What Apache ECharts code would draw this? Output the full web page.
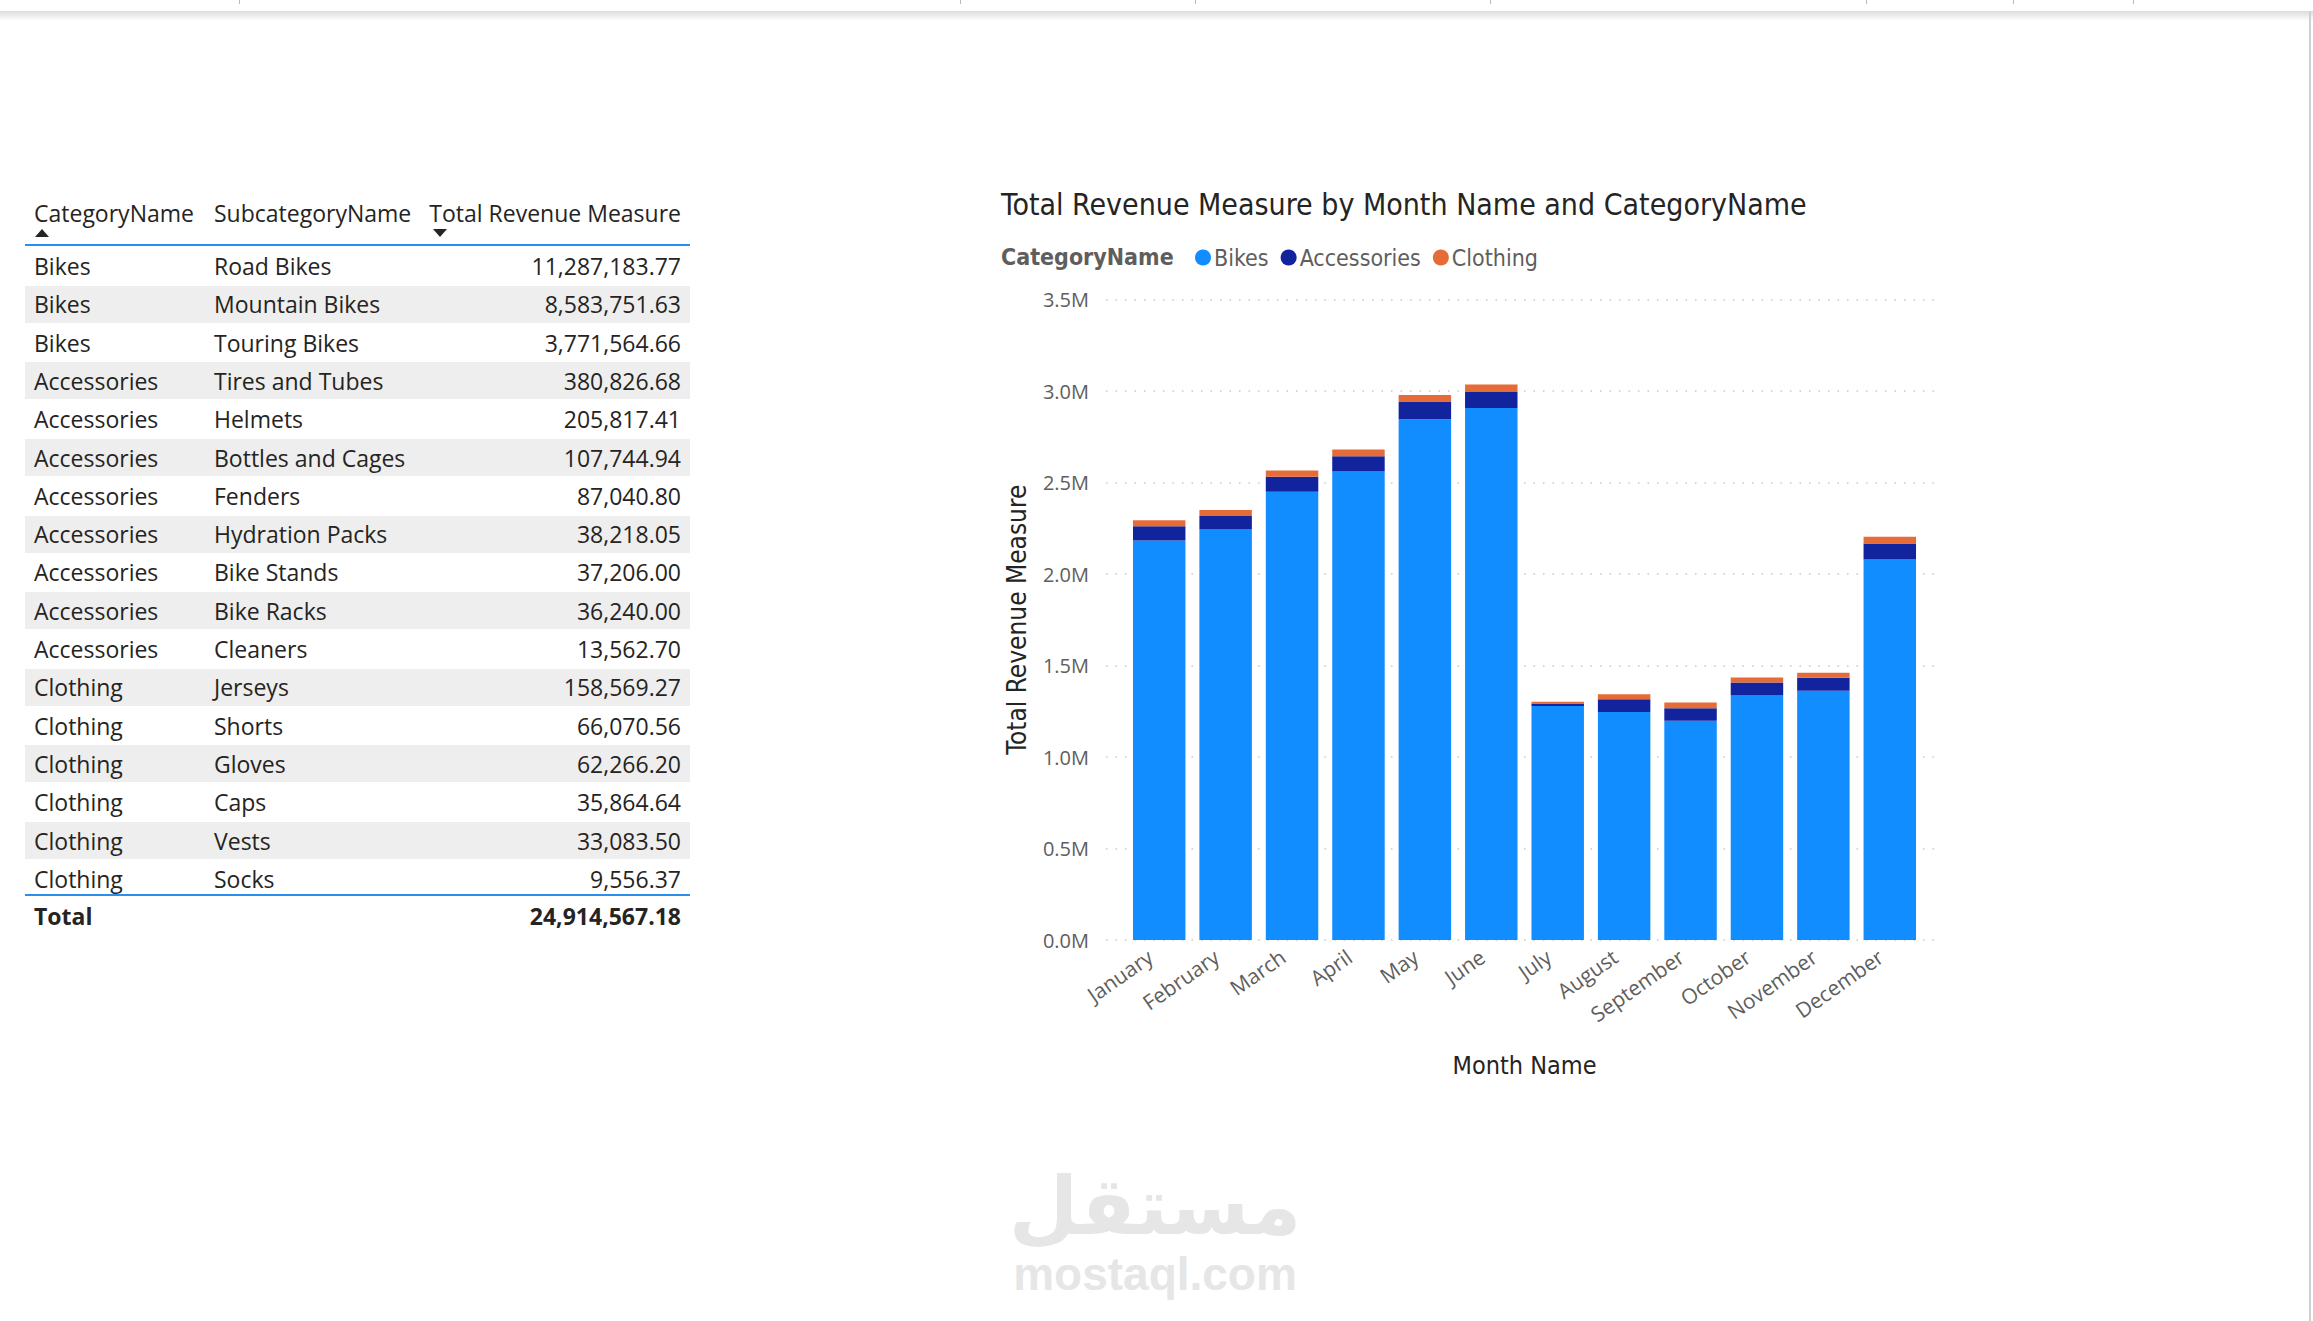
<!DOCTYPE html>
<html>
<head>
<meta charset="utf-8">
<script src="https://cdn.jsdelivr.net/npm/echarts@6/dist/echarts.min.js"></script>
<style>
  html, body { margin:0; padding:0; background:#fff; }
  #wrap { position:relative; width:2313px; height:1321px; overflow:hidden; background:#fff; }
  #chart { position:absolute; left:0; top:0; width:2313px; height:1321px; }
  #table { position:absolute; left:0; top:0; width:720px; height:1000px; font-family:"Open Sans","Noto Sans",sans-serif; color:#252423; }
  .cell { position:absolute; white-space:nowrap; font-size:23px; line-height:38px; height:38px; }
  .band { position:absolute; left:25px; width:665px; background:#EEEEEE; }
  .hline { position:absolute; left:25px; width:665px; height:2px; background:#2A90F0; }
  .tick { position:absolute; top:0; width:1px; height:4px; background:#b8b8b8; }
</style>
</head>
<body>
<div id="wrap">
  <div style="position:absolute;left:0;top:11px;width:2313px;height:10px;background:linear-gradient(#dcdcdc,#ffffff);"></div>
  <div style="position:absolute;left:2309px;top:11px;width:2px;height:1310px;background:#d0d0d0;"></div>
  <div id="ticks"></div>
  <div id="table"></div>
  <div id="chart"></div>
</div>
<script>
// ---------- Table data ----------
const tableCategoryNames = ["Bikes","Bikes","Bikes","Accessories","Accessories","Accessories","Accessories","Accessories","Accessories","Accessories","Accessories","Clothing","Clothing","Clothing","Clothing","Clothing","Clothing"];
const tableSubcategoryNames = ["Road Bikes","Mountain Bikes","Touring Bikes","Tires and Tubes","Helmets","Bottles and Cages","Fenders","Hydration Packs","Bike Stands","Bike Racks","Cleaners","Jerseys","Shorts","Gloves","Caps","Vests","Socks"];
const tableRevenue = [11287183.77,8583751.63,3771564.66,380826.68,205817.41,107744.94,87040.80,38218.05,37206.00,36240.00,13562.70,158569.27,66070.56,62266.20,35864.64,33083.50,9556.37];
const tableTotal = 24914567.18;
const tableHeaders = ["CategoryName","SubcategoryName","Total Revenue Measure"];

// ---------- Chart data ----------
const months = ["January","February","March","April","May","June","July","August","September","October","November","December"];
const bikesRevenue =       [2183000,2243000,2449000,2560000,2845000,2907000,1279000,1246000,1198000,1336000,1362000,2079000];
const accessoriesRevenue = [  78000,  74000,  83000,  83000,  97000,  88000,  14000,  69000,  69000,  71000,  71000,  88000];
const clothingRevenue =    [  33000,  33000,  33000,  38000,  36000,  40000,   9000,  28000,  31000,  28000,  28000,  36000];
const yTicks = [0,500000,1000000,1500000,2000000,2500000,3000000,3500000];

// ---------- decorative top ticks ----------
(function(){
  const xs=[239,960,1195,1490,1866,2013,2133];
  const t=document.getElementById('ticks');
  xs.forEach(x=>{const d=document.createElement('div');d.className='tick';d.style.left=x+'px';t.appendChild(d);});
})();

// ---------- table ----------
(function(){
  const T=document.getElementById('table');
  const fmt=v=>v.toLocaleString('en-US',{minimumFractionDigits:2,maximumFractionDigits:2});
  function cell(text, x, cy, opts){
    const d=document.createElement('div'); d.className='cell'; d.textContent=text;
    d.style.top=(cy-19)+'px';
    if(opts&&opts.right){ d.style.right=(720-x)+'px'; d.style.textAlign='right'; } else d.style.left=x+'px';
    if(opts&&opts.bold) d.style.fontWeight='700';
    T.appendChild(d);
  }
  cell(tableHeaders[0],34,213); cell(tableHeaders[1],214,213); cell(tableHeaders[2],681,213,{right:true});
  const up=document.createElement('div');
  up.style.cssText='position:absolute;left:35px;top:229px;width:0;height:0;border-left:7px solid transparent;border-right:7px solid transparent;border-bottom:8px solid #252423;';
  T.appendChild(up);
  const dn=document.createElement('div');
  dn.style.cssText='position:absolute;left:433px;top:229px;width:0;height:0;border-left:7px solid transparent;border-right:7px solid transparent;border-top:8px solid #252423;';
  T.appendChild(dn);
  const l1=document.createElement('div'); l1.className='hline'; l1.style.top='244px'; T.appendChild(l1);
  const rh=38.3, c0=266;
  for(let i=0;i<tableCategoryNames.length;i++){
    const cy=c0+rh*i;
    if(i%2===1){ const b=document.createElement('div'); b.className='band'; b.style.top=(cy-18.5)+'px'; b.style.height='37px'; T.appendChild(b); }
    cell(tableCategoryNames[i],34,cy);
    cell(tableSubcategoryNames[i],214,cy);
    cell(fmt(tableRevenue[i]),681,cy,{right:true});
  }
  const l2=document.createElement('div'); l2.className='hline'; l2.style.top='894px'; T.appendChild(l2);
  cell('Total',34,916,{bold:true});
  cell(fmt(tableTotal),681,916,{bold:true,right:true});
})();

// ---------- chart ----------
const chart = echarts.init(document.getElementById('chart'), null, {renderer:'svg', width:2313, height:1321});
const gridTop=299.5, gridBottom=381;
const labelFont = '"Open Sans","Noto Sans",sans-serif';
const dinFont = '"DejaVu Sans Condensed","DejaVu Sans",sans-serif';
chart.setOption({
  animation:false,
  graphic:[
    {type:'text', x:1001, y:204, style:{text:'Total Revenue Measure by Month Name and CategoryName', font:'30px '+dinFont, fill:'#252423', align:'left', verticalAlign:'middle'}},
    {type:'text', x:1001, y:257, style:{text:'CategoryName', font:'bold 23px '+dinFont, fill:'#605E5C', align:'left', verticalAlign:'middle'}},
    {type:'text', x:1155, y:1206, style:{text:'مستقل', font:'bold 80px "DejaVu Sans",sans-serif', fill:'#E6E6E6', align:'center', verticalAlign:'middle'}},
    {type:'text', x:1155, y:1274, style:{text:'mostaql.com', font:'bold 46px "Liberation Sans",Arial,sans-serif', fill:'#E6E6E6', align:'center', verticalAlign:'middle'}}
  ],
  legend:{
    left:1190, top:241, icon:'circle', itemWidth:16, itemHeight:16, itemGap:12,
    textStyle:{fontFamily:dinFont, fontSize:23, color:'#605E5C', padding:[0,0,0,-2]},
    data:['Bikes','Accessories','Clothing']
  },
  grid:[
    {left:1126, right:390, top:gridTop, bottom:gridBottom, containLabel:false},
    {left:1106, right:376, top:gridTop, bottom:gridBottom, containLabel:false}
  ],
  xAxis:[
    {type:'category', gridIndex:0, data:months,
     axisLine:{show:false}, axisTick:{show:false},
     axisLabel:{rotate:35, margin:8, fontFamily:labelFont, fontSize:21, color:'#605E5C', interval:0, padding:[0,11,0,0]},
     name:'Month Name', nameLocation:'middle', nameGap:113,
     nameTextStyle:{fontFamily:dinFont, fontSize:25, color:'#252423'}},
    {type:'value', gridIndex:1, show:false, min:0, max:1}
  ],
  yAxis:[
    {type:'value', gridIndex:0, min:0, max:3500000, interval:500000,
     axisLine:{show:false}, axisTick:{show:false}, splitLine:{show:false},
     axisLabel:{margin:37, fontFamily:labelFont, fontSize:20, color:'#605E5C',
       formatter:v=> yTicks.indexOf(v)>=0 ? (v/1e6).toFixed(1)+'M' : ''},
     name:'Total Revenue Measure', nameLocation:'middle', nameGap:96, nameRotate:90,
     nameTextStyle:{fontFamily:dinFont, fontSize:26, color:'#252423'}},
    {type:'value', gridIndex:1, min:0, max:3500000, interval:500000,
     axisLine:{show:false}, axisTick:{show:false}, axisLabel:{show:false},
     splitLine:{show:true, lineStyle:{color:'#C8C6C4', width:1.5, type:[1.5,8]}}}
  ],
  series:[
    {name:'Bikes', type:'bar', stack:'total', xAxisIndex:0, yAxisIndex:0, data:bikesRevenue, barCategoryGap:'21%', itemStyle:{color:'#118DFF'}, z:3},
    {name:'Accessories', type:'bar', stack:'total', xAxisIndex:0, yAxisIndex:0, data:accessoriesRevenue, barCategoryGap:'21%', itemStyle:{color:'#12239E'}, z:3},
    {name:'Clothing', type:'bar', stack:'total', xAxisIndex:0, yAxisIndex:0, data:clothingRevenue, barCategoryGap:'21%', itemStyle:{color:'#E66C37'}, z:3}
  ]
});
</script>
</body>
</html>
